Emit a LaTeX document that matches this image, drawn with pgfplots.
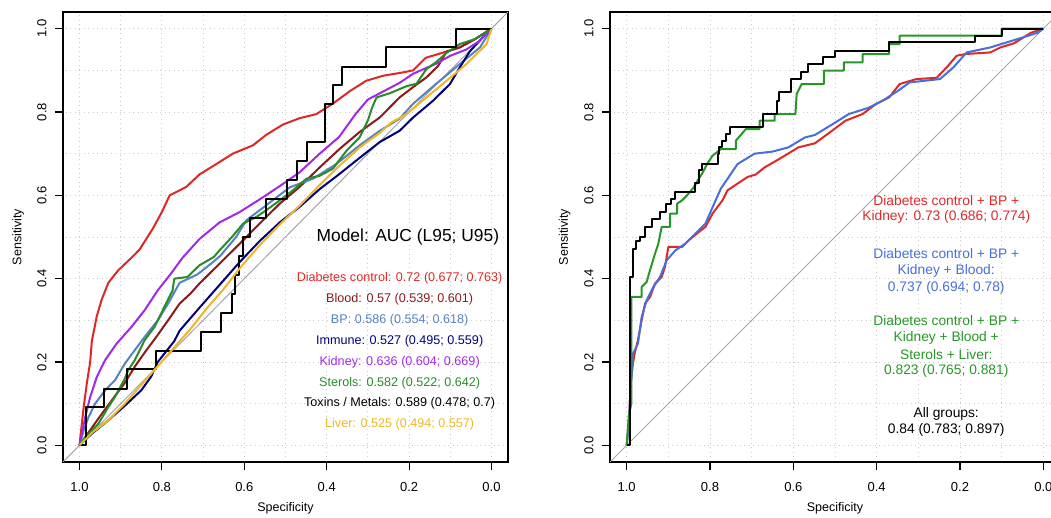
\documentclass[border=0pt]{standalone}
\usepackage{fontspec}
\setmainfont{Liberation Sans}
\usepackage{pgfplots}
\pgfplotsset{compat=1.18}

\definecolor{dcred}{RGB}{222,40,38}
\definecolor{blood}{RGB}{139,26,26}
\definecolor{bp}{RGB}{86,130,196}
\definecolor{immune}{RGB}{0,0,128}
\definecolor{kidney}{RGB}{160,40,235}
\definecolor{sterols}{RGB}{40,140,40}
\definecolor{liver}{RGB}{240,182,36}
\definecolor{rblue}{RGB}{70,110,220}
\definecolor{rgreen}{RGB}{40,150,40}

\pgfplotsset{
  rocaxis/.style={
    scale only axis, height=450pt,
    x dir=reverse, xmin=-0.04, xmax=1.04, ymin=-0.04, ymax=1.04,
    xtick={0,0.2,0.4,0.6,0.8,1}, ytick={0,0.2,0.4,0.6,0.8,1},
    minor xtick={0.1,0.3,0.5,0.7,0.9}, minor ytick={0.1,0.3,0.5,0.7,0.9},
    grid=both,
    major grid style={gray!40, line width=0.9pt, dash pattern=on 1pt off 3.5pt},
    minor grid style={gray!40, line width=0.9pt, dash pattern=on 1pt off 3.5pt},
    tick align=outside, major tick length=8pt, minor tick length=0pt,
    xtick pos=bottom, ytick pos=left,
    axis line style={line width=1.3pt},
    every tick/.style={black, line width=1.1pt},
    xticklabel={\pgfmathprintnumber[fixed,fixed zerofill,precision=1,assume math mode=true]{\tick}},
    yticklabel={\pgfmathprintnumber[fixed,fixed zerofill,precision=1,assume math mode=true]{\tick}},
    xticklabel style={font=\fontsize{13}{15}\selectfont, anchor=north, yshift=-9pt},
    yticklabel style={font=\fontsize{13}{15}\selectfont, xshift=-5pt, rotate=90, anchor=south},
    xlabel={Specificity}, ylabel={Sensitivity},
    xlabel style={font=\fontsize{12.5}{14}\selectfont, at={(axis description cs:0.5,-0.102)}, anchor=center},
    ylabel style={font=\fontsize{12.5}{14}\selectfont, at={(axis description cs:-0.101,0.5)}, anchor=center},
    every axis plot/.append style={line width=2pt, line join=round},
  },
}
\tikzset{
  lg/.style={font=\fontsize{12.6}{14}\selectfont, inner sep=0pt, anchor=center},
  rg/.style={font=\fontsize{13.8}{15}\selectfont, inner sep=0pt, anchor=center},
}

\begin{document}
\begin{tikzpicture}[x=1pt,y=1pt]
\path[use as bounding box] (0,0) rectangle (1051,518);

% ---------------- left panel: single groups ----------------
\begin{axis}[rocaxis, width=445pt, at={(63pt,56pt)}, anchor=south west]
\addplot[gray!70, line width=1pt] coordinates {(1.04,-0.04) (-0.04,1.04)};
% Diabetes control
\addplot[dcred] coordinates {
(1,0) (0.99,0.09) (0.982,0.15) (0.974,0.20) (0.97,0.25) (0.958,0.31) (0.946,0.35)
(0.93,0.39) (0.906,0.42) (0.874,0.45) (0.854,0.47) (0.822,0.52) (0.80,0.56)
(0.781,0.60) (0.741,0.62) (0.709,0.65) (0.668,0.675) (0.628,0.70) (0.579,0.72)
(0.547,0.745) (0.506,0.77) (0.466,0.785) (0.425,0.795) (0.385,0.82) (0.344,0.85)
(0.304,0.875) (0.263,0.887) (0.215,0.895) (0.19,0.90) (0.16,0.93) (0.126,0.94)
(0.077,0.955) (0.04,0.975) (0,1)};
% Blood
\addplot[blood] coordinates {
(1,0) (0.975,0.035) (0.95,0.07) (0.92,0.11) (0.89,0.15) (0.865,0.19) (0.84,0.225)
(0.81,0.265) (0.785,0.30) (0.757,0.34) (0.73,0.365) (0.709,0.388) (0.66,0.436)
(0.611,0.484) (0.563,0.532) (0.514,0.58) (0.466,0.62) (0.417,0.667) (0.368,0.712)
(0.32,0.752) (0.271,0.787) (0.223,0.835) (0.19,0.86) (0.158,0.883) (0.13,0.91)
(0.109,0.945) (0.077,0.955) (0.04,0.975) (0,1)};
% BP
\addplot[bp] coordinates {
(1,0) (0.99,0.035) (0.978,0.068) (0.962,0.10) (0.938,0.132) (0.914,0.156) (0.89,0.196)
(0.866,0.228) (0.842,0.26) (0.81,0.30) (0.785,0.34) (0.757,0.39) (0.714,0.41)
(0.682,0.435) (0.658,0.455) (0.62,0.50) (0.595,0.54) (0.547,0.576) (0.49,0.619)
(0.433,0.64) (0.377,0.675) (0.32,0.72) (0.271,0.755) (0.223,0.784) (0.19,0.82)
(0.134,0.868) (0.077,0.915) (0.028,0.955) (0,1)};
% Immune
\addplot[immune] coordinates {
(1,0) (0.97,0.028) (0.93,0.06) (0.89,0.095) (0.85,0.132) (0.826,0.165) (0.81,0.20)
(0.77,0.25) (0.757,0.275) (0.709,0.33) (0.66,0.385) (0.611,0.44) (0.563,0.49)
(0.514,0.535) (0.466,0.572) (0.417,0.615) (0.368,0.652) (0.32,0.69) (0.271,0.728)
(0.223,0.755) (0.19,0.787) (0.142,0.827) (0.101,0.867) (0.077,0.907) (0.053,0.945)
(0.025,0.975) (0,1)};
% Kidney
\addplot[kidney] coordinates {
(1,0) (0.986,0.068) (0.974,0.116) (0.958,0.164) (0.938,0.204) (0.91,0.244) (0.874,0.284)
(0.842,0.324) (0.81,0.372) (0.778,0.412) (0.75,0.45) (0.709,0.495) (0.66,0.535)
(0.611,0.56) (0.563,0.59) (0.514,0.622) (0.466,0.655) (0.417,0.70) (0.37,0.74)
(0.33,0.795) (0.30,0.83) (0.271,0.845) (0.223,0.87) (0.19,0.892) (0.134,0.916)
(0.10,0.935) (0.061,0.95) (0.03,0.97) (0,1)};
% Sterols
\addplot[sterols] coordinates {
(1,0) (0.985,0.02) (0.97,0.035) (0.954,0.052) (0.93,0.092) (0.914,0.116) (0.89,0.16)
(0.882,0.18) (0.866,0.204) (0.842,0.252) (0.818,0.284) (0.794,0.332) (0.774,0.372)
(0.77,0.40) (0.738,0.404) (0.709,0.432) (0.674,0.452) (0.66,0.468) (0.63,0.50)
(0.603,0.532) (0.571,0.548) (0.547,0.564) (0.514,0.588) (0.482,0.612) (0.449,0.64)
(0.417,0.647) (0.385,0.664) (0.352,0.707) (0.32,0.739) (0.30,0.78) (0.29,0.81)
(0.279,0.835) (0.247,0.845) (0.206,0.862) (0.182,0.868) (0.158,0.903) (0.134,0.92)
(0.109,0.942) (0.077,0.963) (0.04,0.975) (0.02,0.987) (0,1)};
% Toxins / Metals
\addplot[black] coordinates {
(1,0) (0.985,0) (0.985,0.091) (0.94,0.091) (0.94,0.136) (0.885,0.136) (0.885,0.182)
(0.815,0.182) (0.815,0.227) (0.706,0.227) (0.706,0.273) (0.656,0.273) (0.656,0.318)
(0.63,0.318) (0.63,0.364) (0.622,0.364) (0.622,0.409) (0.612,0.409) (0.612,0.455)
(0.604,0.455) (0.604,0.50) (0.585,0.50) (0.585,0.545) (0.548,0.545) (0.548,0.591)
(0.497,0.591) (0.497,0.636) (0.472,0.636) (0.472,0.682) (0.448,0.682) (0.448,0.727)
(0.405,0.727) (0.405,0.818) (0.385,0.818) (0.385,0.864) (0.362,0.864) (0.362,0.909)
(0.255,0.909) (0.255,0.955) (0.085,0.955) (0.085,1) (0,1)};
% Liver
\addplot[liver] coordinates {
(1,0) (0.97,0.03) (0.93,0.06) (0.89,0.10) (0.85,0.145) (0.81,0.19) (0.77,0.235)
(0.73,0.28) (0.69,0.33) (0.65,0.375) (0.611,0.425) (0.563,0.48) (0.514,0.53)
(0.466,0.575) (0.417,0.625) (0.368,0.672) (0.32,0.715) (0.271,0.75) (0.243,0.775)
(0.206,0.795) (0.158,0.835) (0.109,0.875) (0.061,0.915) (0.012,0.963) (0,1)};

\node[font=\fontsize{17.4}{19}\selectfont, inner sep=0pt] at (axis cs:0.203,0.501) {Model: AUC (L95; U95)};
\node[lg, text=dcred]   at (axis cs:0.223,0.40) {Diabetes control: 0.72 (0.677; 0.763)};
\node[lg, text=blood]   at (axis cs:0.223,0.35) {Blood: 0.57 (0.539; 0.601)};
\node[lg, text=bp]      at (axis cs:0.223,0.30) {BP: 0.586 (0.554; 0.618)};
\node[lg, text=immune]  at (axis cs:0.223,0.25) {Immune: 0.527 (0.495; 0.559)};
\node[lg, text=kidney]  at (axis cs:0.223,0.20) {Kidney: 0.636 (0.604; 0.669)};
\node[lg, text=sterols] at (axis cs:0.223,0.15) {Sterols: 0.582 (0.522; 0.642)};
\node[lg, text=black]   at (axis cs:0.223,0.10) {Toxins / Metals: 0.589 (0.478; 0.7)};
\node[lg, text=liver]   at (axis cs:0.223,0.05) {Liver: 0.525 (0.494; 0.557)};
\end{axis}

% ---------------- right panel: combined models ----------------
\begin{axis}[rocaxis, width=450pt, at={(610pt,56pt)}, anchor=south west]
\addplot[gray!70, line width=1pt] coordinates {(1.04,-0.04) (-0.04,1.04)};
% Diabetes control + BP + Kidney
\addplot[dcred] coordinates {
(1,0) (0.995,0.05) (0.99,0.15) (0.986,0.19) (0.981,0.22) (0.973,0.252) (0.964,0.30)
(0.956,0.34) (0.944,0.356) (0.932,0.388) (0.916,0.404) (0.908,0.428) (0.90,0.476)
(0.867,0.476) (0.851,0.492) (0.827,0.512) (0.811,0.524) (0.794,0.556) (0.77,0.588)
(0.758,0.612) (0.71,0.644) (0.69,0.65) (0.669,0.667) (0.629,0.69) (0.588,0.715)
(0.548,0.725) (0.507,0.755) (0.475,0.779) (0.434,0.795) (0.402,0.819) (0.37,0.835)
(0.345,0.867) (0.305,0.879) (0.256,0.882) (0.232,0.907) (0.208,0.935) (0.188,0.939)
(0.127,0.943) (0.103,0.955) (0.07,0.965) (0.03,0.99) (0,1)};
% + Blood
\addplot[rblue] coordinates {
(1,0) (0.995,0.05) (0.99,0.15) (0.986,0.19) (0.985,0.22) (0.973,0.244) (0.964,0.308)
(0.952,0.348) (0.936,0.38) (0.92,0.404) (0.904,0.444) (0.883,0.468) (0.859,0.484)
(0.835,0.508) (0.811,0.532) (0.794,0.571) (0.774,0.616) (0.734,0.675) (0.693,0.70)
(0.65,0.705) (0.612,0.715) (0.572,0.739) (0.548,0.745) (0.507,0.77) (0.467,0.795)
(0.42,0.81) (0.386,0.827) (0.35,0.85) (0.321,0.871) (0.248,0.879) (0.216,0.907)
(0.184,0.943) (0.127,0.955) (0.062,0.975) (0.014,0.99) (0,1)};
% + Sterols + Liver
\addplot[rgreen] coordinates {
(1,0) (0.995,0.07) (0.989,0.10) (0.989,0.356) (0.964,0.356) (0.964,0.38) (0.952,0.392)
(0.944,0.42) (0.932,0.46) (0.924,0.484) (0.916,0.524) (0.896,0.524) (0.896,0.556)
(0.879,0.556) (0.879,0.58) (0.867,0.588) (0.855,0.60) (0.839,0.619) (0.83,0.635)
(0.819,0.652) (0.807,0.675) (0.794,0.695) (0.774,0.711) (0.738,0.711) (0.738,0.731)
(0.714,0.759) (0.681,0.759) (0.681,0.779) (0.645,0.779) (0.645,0.795) (0.595,0.795)
(0.592,0.843) (0.58,0.867) (0.527,0.867) (0.527,0.899) (0.479,0.899) (0.479,0.919)
(0.434,0.919) (0.434,0.939) (0.37,0.939) (0.37,0.963) (0.345,0.963) (0.345,0.983)
(0.10,0.983) (0.10,1) (0,1)};
% All groups
\addplot[black] coordinates {
(1,0) (0.993,0) (0.993,0.405) (0.985,0.405) (0.985,0.47) (0.977,0.47) (0.977,0.49)
(0.968,0.49) (0.968,0.50) (0.956,0.50) (0.956,0.524) (0.94,0.524) (0.94,0.544)
(0.92,0.544) (0.92,0.56) (0.906,0.56) (0.906,0.58) (0.893,0.58) (0.893,0.592)
(0.885,0.592) (0.885,0.607) (0.835,0.607) (0.835,0.63) (0.826,0.63) (0.826,0.66)
(0.819,0.66) (0.819,0.675) (0.782,0.675) (0.782,0.70) (0.778,0.70) (0.778,0.715)
(0.772,0.715) (0.772,0.731) (0.762,0.731) (0.762,0.747) (0.752,0.747) (0.752,0.763)
(0.672,0.763) (0.672,0.795) (0.64,0.795) (0.64,0.827) (0.635,0.827) (0.635,0.847)
(0.606,0.847) (0.606,0.879) (0.582,0.879) (0.582,0.895) (0.566,0.895) (0.566,0.915)
(0.53,0.915) (0.53,0.931) (0.50,0.931) (0.50,0.947) (0.37,0.947) (0.37,0.967)
(0.165,0.967) (0.165,0.983) (0.10,0.983) (0.10,1) (0,1)};

\node[rg, text=dcred]  at (axis cs:0.233,0.5875) {Diabetes control + BP +};
\node[rg, text=dcred]  at (axis cs:0.233,0.5475) {Kidney: 0.73 (0.686; 0.774)};
\node[rg, text=rblue]  at (axis cs:0.233,0.4597) {Diabetes control + BP +};
\node[rg, text=rblue]  at (axis cs:0.233,0.4180) {Kidney + Blood:};
\node[rg, text=rblue]  at (axis cs:0.233,0.3782) {0.737 (0.694; 0.78)};
\node[rg, text=rgreen] at (axis cs:0.233,0.2998) {Diabetes control + BP +};
\node[rg, text=rgreen] at (axis cs:0.233,0.2583) {Kidney + Blood +};
\node[rg, text=rgreen] at (axis cs:0.233,0.2182) {Sterols + Liver:};
\node[rg, text=rgreen] at (axis cs:0.233,0.1782) {0.823 (0.765; 0.881)};
\node[rg, text=black]  at (axis cs:0.233,0.0760) {All groups:};
\node[rg, text=black]  at (axis cs:0.233,0.0360) {0.84 (0.783; 0.897)};
\end{axis}
\end{tikzpicture}
\end{document}
